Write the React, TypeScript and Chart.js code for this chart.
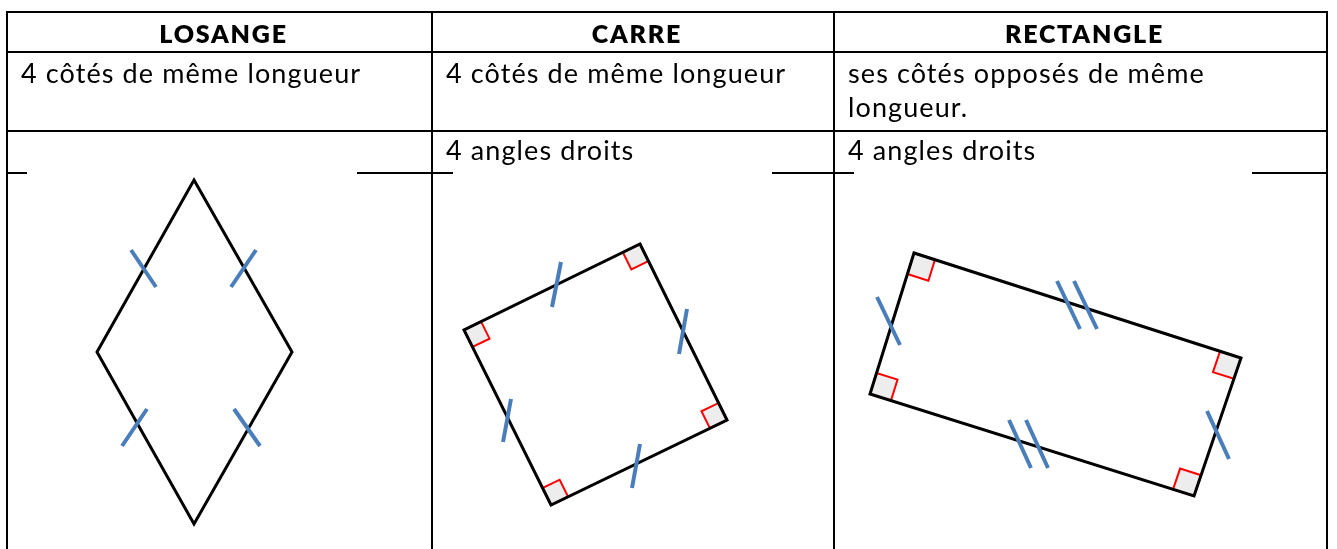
import React, { useEffect, useRef } from "react";
import { Chart, registerables } from "chart.js";

Chart.register(...registerables);

// ---------- canvas frame ----------
const W = 1337;
const H = 549;

// ---------- table text ----------
const columnHeaders = ["LOSANGE", "CARRE", "RECTANGLE"];
const sidesRow = [
  ["4 côtés de même longueur"],
  ["4 côtés de même longueur"],
  ["ses côtés opposés de même", "longueur."],
];
const anglesRow = [[], ["4 angles droits"], ["4 angles droits"]];

// ---------- table rules ----------
const columnEdges = [7, 432, 834, 1327];
const rowEdges = [12, 52, 131];
const tableBottom = 549;
const brokenRuleY = 173;
const brokenRuleSpans = [
  [7, 26],
  [358, 452],
  [773, 853],
  [1253, 1327],
];

// ---------- figures (vertices, clockwise) ----------
const losangeVertices = [
  [194, 180],
  [292, 352],
  [194, 524],
  [97, 352],
];
const carreVertices = [
  [640, 244],
  [727, 420],
  [551, 505],
  [464, 330],
];
const rectangleVertices = [
  [914, 253],
  [1241, 358],
  [1194, 496],
  [870, 394],
];

// equal-length tick marks (segment end points)
const losangeTicks = [
  [[131, 250], [156, 287]],
  [[256, 250], [231, 287]],
  [[147, 409], [122, 446]],
  [[234, 409], [260, 446]],
];
const carreTicks = [
  [[561, 262], [552, 307]],
  [[687, 309], [679, 354]],
  [[511, 399], [503, 442]],
  [[640, 444], [632, 488]],
];
const rectangleTicks = [
  [[877, 297], [900, 345]],
  [[1207, 411], [1229, 459]],
  [[1057, 281], [1080, 329]],
  [[1074, 281], [1097, 329]],
  [[1009, 420], [1031, 468]],
  [[1026, 420], [1048, 468]],
];

// right-angle marker sizes
const carreMarkerSize = 19;
const rectangleMarkerSize = 22;

// ---------- styles ----------
const BLACK = "#000000";
const BLUE = "#4a7ebb";
const RED = "#ff0000";
const MARK_FILL = "#ededed";
const FONT = "Lato, 'Open Sans', sans-serif";
const BODY_SIZE = 27;
const BODY_SPACING = 1.1;
const HEAD_SIZE = 25;
const HEAD_SPACING = 1.8;

type P = { x: number; y: number };
const GAP: P = { x: NaN, y: NaN };
const pt = ([x, y]: number[]): P => ({ x, y });
const segments = (list: number[][][]): P[] =>
  list.flatMap((s) => [...s.map(pt), GAP]);
const closedPath = (v: number[][]): P[] => [...v, v[0], v[1]].map(pt);

function markerSquare(v: number[][], i: number, s: number): P[] {
  const n = v.length;
  const c = v[i];
  const a = v[(i + 1) % n];
  const b = v[(i + n - 1) % n];
  const la = Math.hypot(a[0] - c[0], a[1] - c[1]);
  const lb = Math.hypot(b[0] - c[0], b[1] - c[1]);
  const ua = [(a[0] - c[0]) / la, (a[1] - c[1]) / la];
  const ub = [(b[0] - c[0]) / lb, (b[1] - c[1]) / lb];
  return [
    c,
    [c[0] + s * ua[0], c[1] + s * ua[1]],
    [c[0] + s * (ua[0] + ub[0]), c[1] + s * (ua[1] + ub[1])],
    [c[0] + s * ub[0], c[1] + s * ub[1]],
    c,
  ].map(pt);
}

function tableRuleSegments(): number[][][] {
  const segs: number[][][] = [];
  rowEdges.forEach((y) => segs.push([[columnEdges[0], y], [columnEdges[columnEdges.length - 1], y]]));
  columnEdges.forEach((x) => segs.push([[x, rowEdges[0]], [x, tableBottom]]));
  brokenRuleSpans.forEach(([a, b]) => segs.push([[a, brokenRuleY], [b, brokenRuleY]]));
  return segs;
}

function ChartCanvas() {
  const ref = useRef<HTMLCanvasElement | null>(null);
  useEffect(() => {
    if (!ref.current) return;
    const lineBase = {
      showLine: true,
      pointRadius: 0,
      pointHoverRadius: 0,
      tension: 0,
      spanGaps: false,
      fill: false,
    };
    const markers: any[] = [];
    [0, 1, 2, 3].forEach((i) => {
      markers.push({
        ...lineBase,
        label: "carre-angle-" + i,
        data: markerSquare(carreVertices, i, carreMarkerSize),
        borderColor: RED,
        borderWidth: 2,
        backgroundColor: MARK_FILL,
        fill: "shape",
      });
      markers.push({
        ...lineBase,
        label: "rect-angle-" + i,
        data: markerSquare(rectangleVertices, i, rectangleMarkerSize),
        borderColor: RED,
        borderWidth: 2,
        backgroundColor: MARK_FILL,
        fill: "shape",
      });
    });
    const chart = new Chart(ref.current, {
      type: "scatter",
      data: {
        datasets: [
          {
            ...lineBase,
            label: "ticks",
            data: segments([...losangeTicks, ...carreTicks, ...rectangleTicks]),
            borderColor: BLUE,
            borderWidth: 4,
            borderCapStyle: "butt",
          },
          {
            ...lineBase,
            label: "losange",
            data: closedPath(losangeVertices),
            borderColor: BLACK,
            borderWidth: 3,
            borderJoinStyle: "miter",
          },
          {
            ...lineBase,
            label: "carre",
            data: closedPath(carreVertices),
            borderColor: BLACK,
            borderWidth: 3,
            borderJoinStyle: "miter",
          },
          {
            ...lineBase,
            label: "rectangle",
            data: closedPath(rectangleVertices),
            borderColor: BLACK,
            borderWidth: 3,
            borderJoinStyle: "miter",
          },
          ...markers,
          {
            ...lineBase,
            label: "table",
            data: segments(tableRuleSegments()),
            borderColor: BLACK,
            borderWidth: 2,
            borderCapStyle: "square",
          },
        ] as any,
      },
      options: {
        animation: false,
        responsive: false,
        maintainAspectRatio: false,
        devicePixelRatio: 1,
        events: [],
        layout: { padding: 0 },
        plugins: {
          legend: { display: false },
          tooltip: { enabled: false },
          title: { display: false },
        },
        scales: {
          x: { type: "linear", min: 0, max: W, display: false },
          y: { type: "linear", min: 0, max: H, reverse: true, display: false },
        },
      } as any,
    });
    return () => chart.destroy();
  }, []);
  return (
    <canvas
      ref={ref}
      width={W}
      height={H}
      style={{ display: "block", width: W, height: H, position: "absolute", left: 0, top: 0 }}
    />
  );
}

// text placement helpers
const headBaseline = 43;
const sidesBaselines = [83, 116.5];
const anglesBaseline = 160;
const cellPadLeft = 14;
const ASC = 0.887;

function TextLine(props: {
  text: string;
  baseline: number;
  left: number;
  width?: number;
  size: number;
  spacing: number;
  bold?: boolean;
  center?: boolean;
}) {
  const { text, baseline, left, width, size, spacing, bold, center } = props;
  return (
    <div
      style={{
        position: "absolute",
        left,
        width: width,
        top: baseline - ASC * size,
        fontFamily: FONT,
        fontSize: size,
        lineHeight: size + "px",
        fontWeight: bold ? 800 : 400,
        letterSpacing: spacing,
        whiteSpace: "nowrap",
        textAlign: center ? "center" : "left",
        color: BLACK,
      }}
    >
      {text}
    </div>
  );
}

export default function App() {
  const texts: React.ReactNode[] = [];
  columnHeaders.forEach((h, c) => {
    const x1 = columnEdges[c];
    const x2 = columnEdges[c + 1];
    texts.push(
      <TextLine
        key={"h" + c}
        text={h}
        baseline={headBaseline}
        left={x1 + 4}
        width={x2 - x1}
        size={HEAD_SIZE}
        spacing={HEAD_SPACING}
        bold
        center
      />
    );
  });
  sidesRow.forEach((lines, c) => {
    lines.forEach((t, k) =>
      texts.push(
        <TextLine
          key={"s" + c + k}
          text={t}
          baseline={sidesBaselines[k]}
          left={columnEdges[c] + cellPadLeft}
          size={BODY_SIZE}
          spacing={BODY_SPACING}
        />
      )
    );
  });
  anglesRow.forEach((lines, c) => {
    lines.forEach((t, k) =>
      texts.push(
        <TextLine
          key={"a" + c + k}
          text={t}
          baseline={anglesBaseline}
          left={columnEdges[c] + cellPadLeft}
          size={BODY_SIZE}
          spacing={BODY_SPACING}
        />
      )
    );
  });
  return (
    <div style={{ position: "absolute", left: 0, top: 0, width: W, height: H, background: "#ffffff", overflow: "hidden" }}>
      <ChartCanvas />
      {texts}
    </div>
  );
}
